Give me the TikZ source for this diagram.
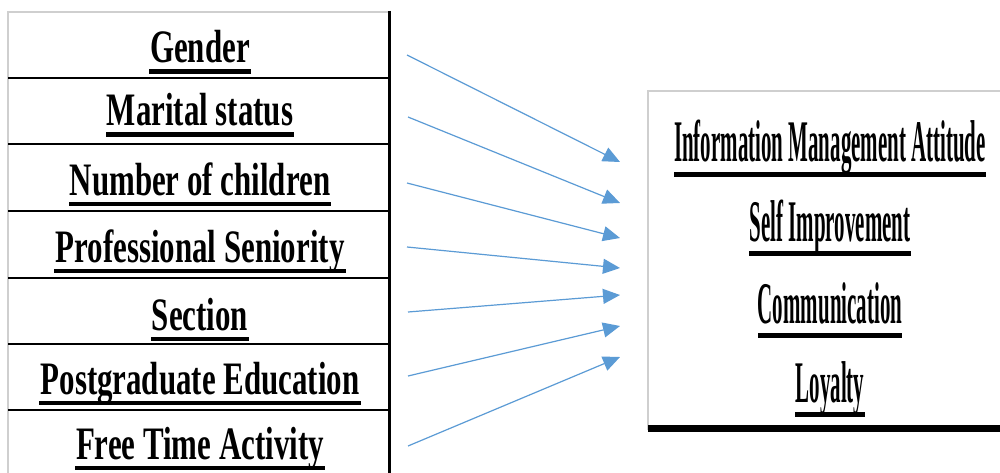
\documentclass[tikz,border=0pt]{standalone}
\usepackage{fontspec}
\usetikzlibrary{arrows.meta,calc}
\newfontfamily\factorfont[FakeStretch=0.665]{Liberation Serif Bold}
\newfontfamily\outcomefont[FakeStretch=0.355]{Liberation Serif Bold}
\definecolor{arrowblue}{HTML}{5B9BD5}
\definecolor{frame}{HTML}{CFCFCF}
\tikzset{
  factor/.style={anchor=base, inner sep=0pt, font=\factorfont\fontsize{46.5}{46.5}\selectfont},
  outcome/.style={anchor=base, inner sep=0pt, font=\outcomefont\fontsize{59}{59}\selectfont},
  link/.style={draw=arrowblue, line width=1.2pt, -{Triangle[length=17pt, width=15pt]}},
  thinframe/.style={draw=frame, line width=2pt},
  rowline/.style={draw=black, line width=2.2pt},
}
\begin{document}
\begin{tikzpicture}[x=1pt, y=-1pt]
  \useasboundingbox (0,0) rectangle (1000,473);
  \fill[white] (0,0) rectangle (1000,473);

  % left table of factors
  \draw[thinframe] (8,473) -- (8,12) -- (389,12);
  \draw[black, line width=3pt] (389,11) -- (389,473);
  \foreach \y in {78,144,211,278,344,410}
    \draw[rowline] (8,\y) -- (388,\y);

  \node[factor] (f1) at (200,63)  {Gender};
  \node[factor] (f2) at (200,126) {Marital status};
  \node[factor] (f3) at (200,195) {Number of children};
  \node[factor] (f4) at (200,262) {Professional Seniority};
  \node[factor] (f5) at (200,330) {Section};
  \node[factor] (f6) at (200,394) {Postgraduate Education};
  \node[factor] (f7) at (200,459) {Free Time Activity};
  \foreach \n in {f1,f2,f3,f4,f5,f6,f7}
    \fill ($(\n.base west)+(-1,6.5)$) rectangle ($(\n.base east)+(1,11)$);

  % right box of outcomes
  \draw[thinframe] (648,430) -- (648,91) -- (1000,91);
  \fill[black] (648,425) rectangle (1000,432);

  \node[outcome] (o1) at (830,162) {Information Management Attitude};
  \node[outcome] (o2) at (830,241) {Self Improvement};
  \node[outcome] (o3) at (830,323) {Communication};
  \node[outcome] (o4) at (830,402) {Loyalty};
  \foreach \n in {o1,o2,o3,o4}
    \fill ($(\n.base west)+(0,10)$) rectangle ($(\n.base east)+(0,15)$);

  % connectors
  \coordinate (s1) at (407,55);  \coordinate (t1) at (620,162);
  \coordinate (s2) at (408,117); \coordinate (t2) at (620,203);
  \coordinate (s3) at (407,183); \coordinate (t3) at (620,238);
  \coordinate (s4) at (407,247); \coordinate (t4) at (620,268);
  \coordinate (s5) at (408,312); \coordinate (t5) at (620,295);
  \coordinate (s6) at (408,376); \coordinate (t6) at (620,326);
  \coordinate (s7) at (408,446); \coordinate (t7) at (620,357);
  \foreach \i in {1,...,7}
    \draw[link] (s\i) -- (t\i);
\end{tikzpicture}
\end{document}
